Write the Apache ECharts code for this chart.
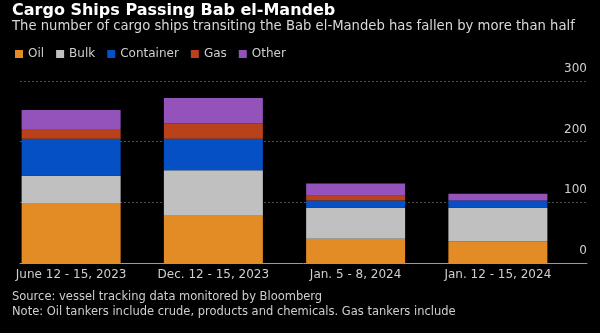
<!DOCTYPE html>
<html>
<head>
<meta charset="utf-8">
<script src="https://cdn.jsdelivr.net/npm/echarts@6/dist/echarts.min.js"></script>
<style>
  html, body { margin: 0; padding: 0; background: #000; }
  #chart { width: 600px; height: 333px; }
</style>
</head>
<body>
<div id="chart"></div>
<script>
// Ship counts by vessel type for each four-day window
const periods = ['June 12 - 15, 2023', 'Dec. 12 - 15, 2023', 'Jan. 5 - 8, 2024', 'Jan. 12 - 15, 2024'];
const oil       = [99, 78, 40, 36];
const bulk      = [45, 75, 51, 55];
const container = [61, 52, 12, 12];
const gas       = [16, 25, 8, 0];
const other     = [31, 42, 20, 11];
const yTicks    = [0, 100, 200, 300];

const FONT = '"DejaVu Sans", Verdana, sans-serif';
const seriesDefs = [
  { name: 'Oil', data: oil, color: '#e38b25' },
  { name: 'Bulk', data: bulk, color: '#c0c0c0' },
  { name: 'Container', data: container, color: '#0550c4' },
  { name: 'Gas', data: gas, color: '#b9421d' },
  { name: 'Other', data: other, color: '#9353bb' }
];

const yMin = yTicks[0], yMax = yTicks[yTicks.length - 1];

const chart = echarts.init(document.getElementById('chart'), null, { renderer: 'canvas' });
chart.setOption({
  backgroundColor: '#000',
  animation: false,
  title: {
    text: 'Cargo Ships Passing Bab el-Mandeb',
    subtext: 'The number of cargo ships transiting the Bab el-Mandeb has fallen by more than half',
    left: 12, top: 3, padding: 0, itemGap: 1,
    textStyle: { color: '#ffffff', fontSize: 16, fontWeight: 'bold', fontFamily: FONT },
    subtextStyle: { color: '#d8d8d8', fontSize: 13.2, fontFamily: FONT }
  },
  legend: {
    left: 15, top: 48, padding: 0,
    icon: 'rect', itemWidth: 8, itemHeight: 8, itemGap: 12,
    textStyle: { color: '#cfcfcf', fontSize: 12, fontFamily: FONT },
    data: seriesDefs.map(s => s.name)
  },
  // grid 0 carries the value scale, gridlines and baseline; grid 1 carries the bars
  grid: [
    { left: 20, right: 13, top: 81, bottom: 70 },
    { left: -1, right: 31, top: 81, bottom: 70 }
  ],
  xAxis: [
    {
      gridIndex: 0, type: 'category', data: periods,
      axisLine: { lineStyle: { color: '#9a9a9a', width: 1 } },
      axisTick: { show: false }, axisLabel: { show: false }
    },
    {
      gridIndex: 1, type: 'category', data: periods,
      axisLine: { show: false }, axisTick: { show: false },
      axisLabel: { interval: 0, color: '#cfcfcf', fontSize: 12, fontFamily: FONT, margin: 6 }
    }
  ],
  yAxis: [
    {
      gridIndex: 0, type: 'value', position: 'right',
      min: yMin, max: yMax, interval: 100,
      axisLine: { show: false }, axisTick: { show: false },
      splitLine: { lineStyle: { color: '#4e4e4e', type: [2, 2], width: 1 } },
      axisLabel: {
        inside: true, margin: 0, color: '#cfcfcf', fontSize: 12, fontFamily: FONT,
        verticalAlign: 'bottom', padding: [0, 0, 6, 0]
      }
    },
    {
      gridIndex: 1, type: 'value', min: yMin, max: yMax, interval: 100, show: false
    }
  ],
  series: seriesDefs.map(s => ({
    name: s.name,
    type: 'bar',
    stack: 'ships',
    xAxisIndex: 1, yAxisIndex: 1,
    barWidth: 99,
    data: s.data,
    itemStyle: { color: s.color }
  })),
  graphic: [
    {
      type: 'text', left: 12, top: 291,
      style: { text: 'Source: vessel tracking data monitored by Bloomberg', fill: '#cfcfcf', font: '11.5px ' + FONT }
    },
    {
      type: 'text', left: 12, top: 306,
      style: { text: 'Note: Oil tankers include crude, products and chemicals. Gas tankers include', fill: '#cfcfcf', font: '11.5px ' + FONT }
    }
  ]
});
</script>
</body>
</html>
